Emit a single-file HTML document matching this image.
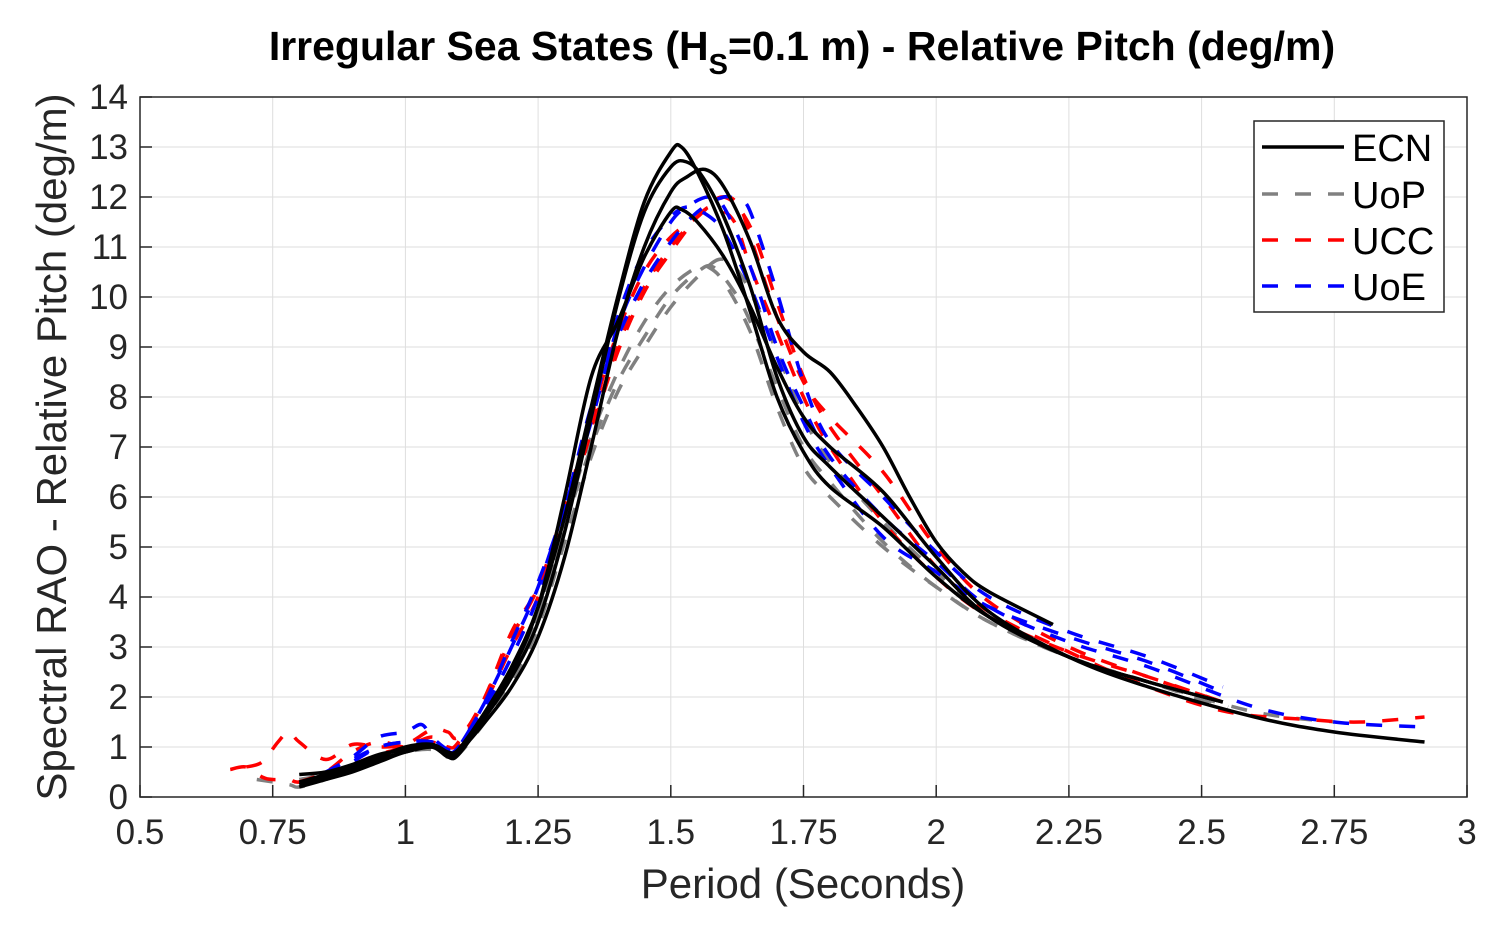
<!DOCTYPE html>
<html><head><meta charset="utf-8"><style>
body{margin:0;background:#fff;}
svg{display:block;font-family:"Liberation Sans",Arial,sans-serif;}
</style></head><body>
<svg id="chart" width="1509" height="930">
<rect width="1509" height="930" fill="#fff"/>
<g id="grid"></g>
<g id="series"></g>
<rect x="140" y="97" width="1327" height="700" fill="none" stroke="#262626" stroke-width="1.5"/>
<g id="ticks"></g>
<text x="802" y="60" text-anchor="middle" font-size="41" font-weight="bold" fill="#000">Irregular Sea States (H<tspan font-size="29" dy="14">S</tspan><tspan dy="-14">=0.1 m) - Relative Pitch (deg/m)</tspan></text>
<text x="803" y="898" text-anchor="middle" font-size="42" fill="#262626">Period (Seconds)</text>
<text transform="translate(66,447) rotate(-90)" text-anchor="middle" font-size="42" fill="#262626">Spectral RAO - Relative Pitch (deg/m)</text>
<g>
<rect x="1254" y="121" width="190" height="191" fill="#fff" stroke="#262626" stroke-width="1.5"/>
<line x1="1262" y1="147" x2="1344" y2="147" stroke="#000" stroke-width="3.5"/>
<text x="1352" y="161" font-size="38" fill="#000">ECN</text>
<line x1="1262" y1="194" x2="1344" y2="194" stroke="#808080" stroke-width="3.5" stroke-dasharray="16,17"/>
<text x="1352" y="208" font-size="38" fill="#000">UoP</text>
<line x1="1262" y1="240" x2="1344" y2="240" stroke="#f00" stroke-width="3.5" stroke-dasharray="16,17"/>
<text x="1352" y="254" font-size="38" fill="#000">UCC</text>
<line x1="1262" y1="286" x2="1344" y2="286" stroke="#00f" stroke-width="3.5" stroke-dasharray="16,17"/>
<text x="1352" y="300" font-size="38" fill="#000">UoE</text>
</g>
</svg>
<script>
const xTicks=[0.5,0.75,1,1.25,1.5,1.75,2,2.25,2.5,2.75,3];
const xTickLabels=["0.5","0.75","1","1.25","1.5","1.75","2","2.25","2.5","2.75","3"];
const yTicks=[0,1,2,3,4,5,6,7,8,9,10,11,12,13,14];
const seriesNames=["ECN-1","ECN-2","ECN-3","ECN-4","UoP-1","UoP-2","UoP-3","UCC-1","UCC-2","UCC-3","UoE-1","UoE-2","UoE-3"];
const seriesGroups=["ECN","ECN","ECN","ECN","UoP","UoP","UoP","UCC","UCC","UCC","UoE","UoE","UoE"];
const ecn1X=[0.8,0.85,0.9,0.95,1.0,1.05,1.08,1.1,1.15,1.2,1.25,1.3,1.35,1.4,1.45,1.5,1.52,1.55,1.6,1.65,1.7,1.75,1.8,1.9,2.0,2.1,2.25,2.4,2.54];
const ecn1Y=[0.3,0.45,0.6,0.8,1.0,1.05,0.85,0.95,1.7,2.6,3.8,5.6,7.8,10.0,11.9,12.9,13.0,12.5,11.3,9.7,8.0,6.9,6.2,5.4,4.4,3.6,2.8,2.3,1.9];
const ecn2X=[0.8,0.85,0.9,0.95,1.0,1.05,1.08,1.1,1.15,1.2,1.25,1.3,1.35,1.4,1.45,1.5,1.53,1.56,1.6,1.65,1.7,1.75,1.8,1.9,2.0,2.1,2.25,2.4,2.54];
const ecn2Y=[0.45,0.5,0.65,0.85,0.95,1.05,0.9,0.95,1.6,2.4,3.5,5.3,7.6,9.9,11.7,12.6,12.7,12.4,11.6,10.2,8.4,7.2,6.6,5.6,4.6,3.6,2.8,2.3,1.9];
const ecn3X=[0.8,0.85,0.9,0.95,1.0,1.05,1.08,1.1,1.15,1.2,1.25,1.3,1.35,1.4,1.45,1.5,1.53,1.565,1.6,1.65,1.7,1.75,1.8,1.85,1.9,1.95,2.0,2.05,2.1,2.22];
const ecn3Y=[0.25,0.4,0.55,0.75,0.9,1.0,0.85,0.9,1.5,2.2,3.2,4.8,7.0,9.3,11.0,12.1,12.4,12.55,12.2,11.1,9.6,8.9,8.5,7.8,7.0,6.0,5.1,4.5,4.1,3.45];
const ecn4X=[0.8,0.85,0.9,0.95,1.0,1.05,1.08,1.1,1.15,1.2,1.25,1.3,1.35,1.4,1.45,1.5,1.52,1.55,1.6,1.65,1.7,1.75,1.8,1.9,2.0,2.1,2.25,2.4,2.6,2.75,2.92];
const ecn4Y=[0.2,0.35,0.5,0.7,0.9,1.0,0.8,0.85,1.6,2.5,3.8,6.0,8.4,9.5,10.8,11.7,11.75,11.5,10.8,9.8,8.6,7.6,7.0,6.1,4.8,3.7,2.8,2.2,1.6,1.3,1.1];
const uop1X=[0.72,0.78,0.8,0.85,0.9,0.95,1.0,1.05,1.08,1.1,1.15,1.2,1.25,1.3,1.35,1.4,1.45,1.5,1.55,1.58,1.62,1.65,1.7,1.75,1.8,1.9,2.0,2.1,2.25,2.4,2.54];
const uop1Y=[0.35,0.25,0.2,0.35,0.55,0.75,0.9,0.95,0.8,0.9,1.6,2.5,3.6,5.4,7.0,8.3,9.2,10.0,10.5,10.6,10.1,9.5,8.2,7.0,6.3,5.1,4.2,3.5,2.8,2.3,1.8];
const uop2X=[0.8,0.85,0.9,0.95,1.0,1.05,1.08,1.1,1.15,1.2,1.25,1.3,1.35,1.4,1.45,1.5,1.55,1.59,1.62,1.65,1.7,1.75,1.8,1.9,2.0,2.1,2.25,2.4,2.55];
const uop2Y=[0.3,0.4,0.6,0.8,0.95,1.0,0.8,0.85,1.5,2.3,3.4,5.1,6.8,8.1,9.0,9.8,10.4,10.75,10.6,10.1,8.9,7.6,6.7,5.5,4.5,3.6,2.8,2.3,1.8];
const uop3X=[0.8,0.85,0.9,0.95,1.0,1.05,1.08,1.1,1.15,1.2,1.25,1.3,1.35,1.4,1.45,1.5,1.55,1.57,1.6,1.65,1.7,1.75,1.8,1.9,2.0,2.1,2.25,2.4,2.6,2.75];
const uop3Y=[0.35,0.45,0.6,0.8,0.95,1.0,0.85,0.9,1.6,2.5,3.7,5.5,7.2,8.5,9.5,10.2,10.6,10.6,10.3,9.3,7.8,6.6,6.0,5.0,4.2,3.5,2.8,2.3,1.7,1.5];
const ucc1X=[0.67,0.7,0.73,0.75,0.78,0.8,0.85,0.9,0.95,1.0,1.05,1.08,1.1,1.15,1.2,1.25,1.3,1.35,1.4,1.45,1.5,1.55,1.6,1.65,1.7,1.75,1.8,1.9,2.0,2.1,2.25,2.4,2.55,2.7,2.8,2.92];
const ucc1Y=[0.55,0.6,0.4,0.35,0.35,0.3,0.45,0.65,0.85,1.0,1.2,1.0,1.1,2.0,3.2,4.2,5.8,7.6,9.3,10.5,11.2,11.6,12.0,11.4,9.9,8.4,7.4,6.0,4.6,3.7,2.9,2.2,1.7,1.55,1.5,1.6];
const ucc2X=[0.7,0.73,0.76,0.78,0.8,0.85,0.9,0.95,1.0,1.05,1.08,1.1,1.15,1.2,1.25,1.3,1.35,1.4,1.45,1.5,1.55,1.58,1.62,1.65,1.7,1.75,1.8,1.9,2.0,2.1,2.25,2.4,2.54];
const ucc2Y=[0.6,0.7,1.1,1.3,1.1,0.75,1.05,1.0,1.05,1.35,1.3,1.2,1.9,3.0,4.0,5.6,7.3,8.9,10.1,10.9,11.6,11.8,11.5,10.6,9.3,8.0,7.0,5.5,4.4,3.6,2.9,2.4,1.9];
const ucc3X=[0.8,0.85,0.9,0.95,1.0,1.05,1.08,1.1,1.15,1.2,1.25,1.3,1.35,1.4,1.45,1.5,1.55,1.6,1.63,1.65,1.7,1.75,1.8,1.9,2.0,2.1,2.25,2.4,2.54];
const ucc3Y=[0.3,0.5,0.9,1.1,1.0,1.1,0.9,1.0,2.0,3.3,4.2,5.7,7.4,9.0,10.2,11.0,11.6,12.0,11.8,11.2,9.6,8.3,7.6,6.5,5.0,3.9,3.0,2.4,1.9];
const uoe1X=[0.85,0.9,0.95,1.0,1.03,1.05,1.08,1.1,1.15,1.2,1.25,1.3,1.35,1.4,1.45,1.5,1.53,1.57,1.6,1.65,1.7,1.75,1.8,1.9,2.0,2.1,2.25,2.4,2.6,2.75,2.92];
const uoe1Y=[0.5,0.8,1.2,1.3,1.45,1.2,0.95,1.0,1.9,3.0,4.2,5.8,7.5,9.4,10.6,11.5,11.8,12.0,11.8,10.6,9.0,7.8,6.8,5.6,4.7,3.8,3.1,2.6,1.8,1.5,1.4];
const uoe2X=[0.85,0.9,0.95,1.0,1.05,1.08,1.1,1.15,1.2,1.25,1.3,1.35,1.4,1.45,1.5,1.53,1.56,1.6,1.65,1.7,1.75,1.8,1.9,2.0,2.1,2.25,2.4,2.54];
const uoe2Y=[0.4,0.7,1.0,1.1,1.1,0.9,1.0,1.8,2.8,4.0,5.6,7.6,9.6,10.9,11.6,11.8,11.7,11.3,10.2,8.8,7.5,6.6,5.2,4.5,3.8,3.2,2.7,2.1];
const uoe3X=[0.85,0.9,0.95,1.0,1.05,1.08,1.1,1.15,1.2,1.25,1.3,1.35,1.4,1.45,1.5,1.55,1.6,1.63,1.65,1.7,1.75,1.8,1.9,2.0,2.1,2.25,2.4,2.54];
const uoe3Y=[0.45,0.75,1.0,1.1,1.1,0.9,1.0,1.9,3.1,4.3,5.8,7.8,9.2,10.3,11.1,11.7,12.0,11.9,11.7,10.1,8.3,7.1,6.0,4.9,4.0,3.3,2.8,2.2];
const seriesX=[ecn1X,ecn2X,ecn3X,ecn4X,uop1X,uop2X,uop3X,ucc1X,ucc2X,ucc3X,uoe1X,uoe2X,uoe3X];
const seriesY=[ecn1Y,ecn2Y,ecn3Y,ecn4Y,uop1Y,uop2Y,uop3Y,ucc1Y,ucc2Y,ucc3Y,uoe1Y,uoe2Y,uoe3Y];

const NS="http://www.w3.org/2000/svg";
const L=140,R=1467,T=97,B=797;
const xs=v=>L+(v-0.5)/(3-0.5)*(R-L);
const ys=v=>B-(v/14)*(B-T);
const grid=document.getElementById('grid'),ticks=document.getElementById('ticks'),ser=document.getElementById('series');
function mk(tag,attrs,parent){const e=document.createElementNS(NS,tag);for(const k in attrs)e.setAttribute(k,attrs[k]);parent.appendChild(e);return e;}
xTicks.forEach((t,i)=>{
  const g=mk('line',{x1:xs(t),x2:xs(t),y1:T,y2:B,stroke:'#dedede','stroke-width':1},grid);
  
  
  const tk=mk('line',{x1:xs(t),x2:xs(t),y1:B,y2:B-12,stroke:'#262626','stroke-width':1.5},ticks);
  
  
  const tx=mk('text',{x:xs(t),y:B+47,'text-anchor':'middle','font-size':35,fill:'#262626'},ticks);
  tx.textContent=xTickLabels[i];
  
  
});
yTicks.forEach(t=>{
  const g=mk('line',{x1:L,x2:R,y1:ys(t),y2:ys(t),stroke:'#dedede','stroke-width':1},grid);
  
  
  const tk=mk('line',{x1:L,x2:L+12,y1:ys(t),y2:ys(t),stroke:'#262626','stroke-width':1.5},ticks);
  
  
  const tx=mk('text',{x:L-12,y:ys(t)+12,'text-anchor':'end','font-size':35,fill:'#262626'},ticks);
  tx.textContent=String(t);
  
  
});
const styles={ECN:['#000',''],UoP:['#808080','16,17'],UCC:['#f00','16,17'],UoE:['#00f','16,17']};
function smooth(pts){let d=`M${pts[0][0]},${pts[0][1]}`;for(let i=0;i<pts.length-1;i++){const p0=pts[Math.max(0,i-1)],p1=pts[i],p2=pts[i+1],p3=pts[Math.min(pts.length-1,i+2)];d+=` C${p1[0]+(p2[0]-p0[0])/6},${p1[1]+(p2[1]-p0[1])/6} ${p2[0]-(p3[0]-p1[0])/6},${p2[1]-(p3[1]-p1[1])/6} ${p2[0]},${p2[1]}`;}return d;}
const order=[4,5,6,7,8,9,10,11,12,0,1,2,3];
order.forEach(i=>{
  const pts=seriesX[i].map((x,j)=>[xs(x),ys(seriesY[i][j])]);
  const st=styles[seriesGroups[i]];
  const p=mk('path',{d:smooth(pts),fill:'none',stroke:st[0],'stroke-width':3.5},ser);
  if(st[1])p.setAttribute('stroke-dasharray',st[1]);
  
  
});
</script>
</body></html>
